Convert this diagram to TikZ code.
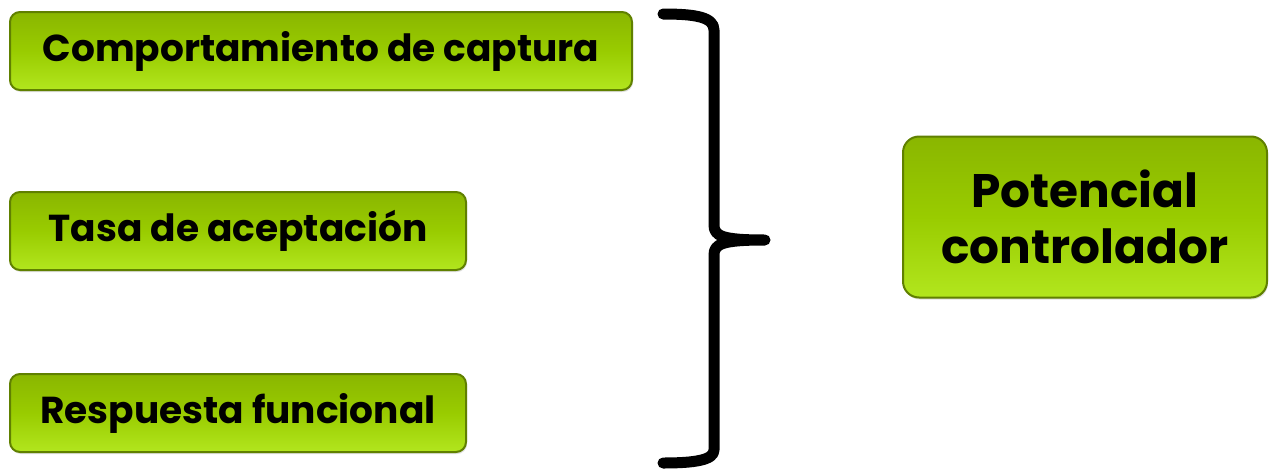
\documentclass[tikz,border=0pt]{standalone}
\usepackage{fontspec}
\setmainfont{Poppins}
\usetikzlibrary{shadows}
\definecolor{gtop}{RGB}{138,182,0}
\definecolor{gmid}{RGB}{153,204,0}
\definecolor{gbot}{RGB}{178,230,30}
\definecolor{gedge}{RGB}{96,128,0}
\tikzset{
  gbox/.style={draw=gedge, line width=2pt, rounded corners=10pt,
    top color=gtop, bottom color=gbot, middle color=gmid,
    drop shadow={shadow xshift=1pt, shadow yshift=-2pt, opacity=0.25},
    inner sep=0pt, font=\bfseries\fontsize{37.5}{42}\selectfont},
  brace/.style={line width=11pt, line cap=round, line join=round, black}
}
\begin{document}
\begin{tikzpicture}[x=1pt,y=-1pt]
\useasboundingbox (0,0) rectangle (1271,471);
\node[gbox, minimum width=622pt, minimum height=78pt] (b1) at (321,51) {Comportamiento de captura};
\node[gbox, minimum width=456pt, minimum height=78pt] (b2) at (238,231) {Tasa de aceptación};
\node[gbox, minimum width=456pt, minimum height=78pt] (b3) at (238,413) {Respuesta funcional};
\node[gbox, minimum width=364pt, minimum height=161pt, rounded corners=16pt, align=center,
  font=\bfseries\fontsize{47}{56}\selectfont] (b4) at (1085,217) {Potencial\\controlador};
\coordinate (bt) at (663,14);
\coordinate (bb) at (663,463);
\coordinate (tip) at (765,240);
\draw[brace] (bt) .. controls (695,14) and (714,17) .. (714,30) -- (714,225)
  .. controls (714,236) and (722,240) .. (tip)
  (tip) .. controls (722,240) and (714,244) .. (714,255) -- (714,450)
  .. controls (714,460) and (695,463) .. (bb);
\end{tikzpicture}
\end{document}
